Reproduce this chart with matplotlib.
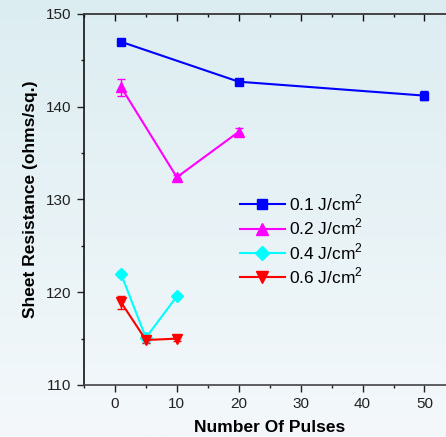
import matplotlib
matplotlib.use("Agg")
import matplotlib.pyplot as plt
import numpy as np
from matplotlib.colors import LinearSegmentedColormap
from matplotlib.lines import Line2D

plt.rcParams['font.family'] = ['Liberation Sans', 'DejaVu Sans']
plt.rcParams['mathtext.fontset'] = 'custom'
plt.rcParams['mathtext.rm'] = 'Liberation Sans'

labels = ['0.1 J/cm$^{2}$', '0.2 J/cm$^{2}$', '0.4 J/cm$^{2}$', '0.6 J/cm$^{2}$']
colors = ['#0000ff', '#ff00ff', '#00ffff', '#ff0000']
markers = ['s', '^', 'D', 'v']
msizes = [6, 7.5, 6, 7.5]

x01 = [1, 20, 50]
y01 = [147.0, 142.7, 141.2]
e01 = [0.2, 0.2, 0.5]
x02 = [1, 10, 20]
y02 = [142.1, 132.4, 137.3]
e02 = [0.9, 0.2, 0.4]
x04 = [1, 5, 10]
y04 = [121.95, 115.1, 119.55]
e04 = [0.3, 0.5, 0.3]
x06 = [1, 5, 10]
y06 = [118.9, 114.85, 115.0]
e06 = [0.7, 0.3, 0.3]

xs = [x01, x02, x04, x06]
ys = [y01, y02, y04, y06]
es = [e01, e02, e04, e06]

W, H = 446, 437
fig = plt.figure(figsize=(W / 100, H / 100), dpi=100)

# background gradient
bg = fig.add_axes([0, 0, 1, 1], zorder=-10)
cmap = LinearSegmentedColormap.from_list('bg', ['#dcedf1', '#f4f8fb'])
bg.imshow(np.linspace(0, 1, 256).reshape(-1, 1), aspect='auto', cmap=cmap,
          extent=[0, 1, 0, 1])
bg.axis('off')

px = 6.19
left = 84 / W
bottom = (H - 385) / H
height = (385 - 14) / H
xmin, xmax = -5, 55
width = (xmax - xmin) * px / W
ax = fig.add_axes([left, bottom, width, height])
ax.patch.set_alpha(0)

handles = []
for x, y, e, c, m, ms, lab in zip(xs, ys, es, colors, markers, msizes, labels):
    ax.errorbar(x, y, yerr=e, color=c, marker=m, markersize=ms, lw=1.5,
                capsize=3, elinewidth=1.0, capthick=1.0)
    handles.append(Line2D([], [], color=c, marker=m, markersize=ms + 1, lw=1.5, label=lab))

ax.set_xlim(xmin, xmax)
ax.set_ylim(110, 150)
ax.set_xticks([0, 10, 20, 30, 40, 50])
ax.set_xticks(np.arange(-5, 55, 5), minor=True)
ax.set_yticks([110, 120, 130, 140, 150])
ax.set_yticks([115, 125, 135, 145], minor=True)
ax.tick_params(which='major', direction='out', length=5, width=1.0, labelsize=11,
               colors='#222222', labelcolor='#222222')
ax.tick_params(which='minor', direction='out', length=2.5, width=1.0, colors='#222222')
ax.tick_params(axis='x', pad=4)
ax.tick_params(axis='y', pad=4)

ax.spines['right'].set_visible(False)
ax.spines['left'].set_color('#111111')
ax.spines['bottom'].set_color('#444444')
ax.spines['top'].set_color('#444444')
for s in ['left', 'bottom', 'top']:
    ax.spines[s].set_linewidth(1.2)

top = ax.secondary_xaxis('top')
top.set_xticks([0, 10, 20, 30, 40, 50])
top.set_xticks(np.arange(-5, 55, 5), minor=True)
top.tick_params(which='major', direction='in', length=5, width=1.0, labeltop=False, colors='#111111')
top.tick_params(which='minor', direction='in', length=2.5, width=1.0, labeltop=False, colors='#111111')
top.spines['top'].set_color('#444444')
top.spines['top'].set_linewidth(1.2)

ax.set_xlabel('Number Of Pulses', fontsize=12.5, fontweight='bold', labelpad=6)
ax.set_ylabel('Sheet Resistance (ohms/sq.)', fontsize=12.5, fontweight='bold', labelpad=6)

leg = ax.legend(handles=handles, loc='upper left',
                bbox_to_anchor=((224 - 84) / (W * width), (385 - 177) / (385 - 14)),
                frameon=False, fontsize=12.5, handlelength=2.6, handletextpad=0.25,
                labelspacing=0.22)

fig.savefig('out.png', dpi=100)
